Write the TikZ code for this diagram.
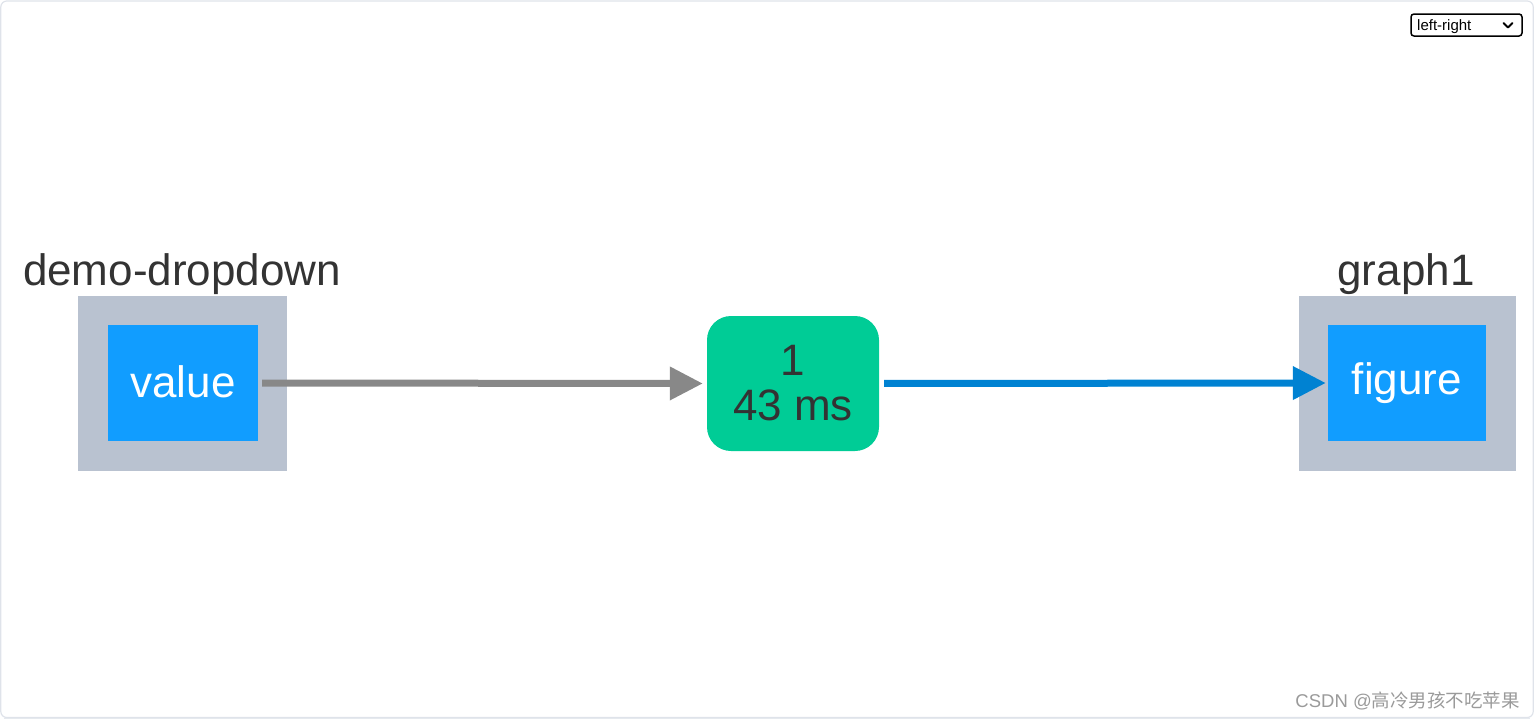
\documentclass[tikz,border=0pt]{standalone}
\usepackage{fontspec}
\setmainfont{Liberation Sans}
\newfontfamily\cjkfont{Noto Sans CJK SC}
\usetikzlibrary{arrows.meta}
\definecolor{parentgray}{HTML}{B9C2D0}
\definecolor{compblue}{HTML}{119DFF}
\definecolor{cbgreen}{HTML}{00CC96}
\definecolor{txtdark}{HTML}{333333}
\definecolor{edgegray}{HTML}{888888}
\definecolor{edgeblue}{HTML}{0082D2}
\definecolor{framegray}{HTML}{DFE3EA}
\definecolor{wmgray}{HTML}{9A9A9A}
\tikzset{
  parentbox/.style={fill=parentgray, draw=none, inner sep=0pt},
  propbox/.style={fill=compblue, draw=none, text=white, inner sep=0pt, font=\fontsize{44}{45}\selectfont},
  cbbox/.style={fill=cbgreen, draw=none, rounded corners=24pt, text=txtdark, inner sep=0pt, align=center, font=\fontsize{44}{45}\selectfont},
  parentlabel/.style={text=txtdark, anchor=base, inner sep=0pt, font=\fontsize{44}{45}\selectfont},
  edgeline/.style={line width=7pt, -{Triangle[length=33pt,width=32pt]}},
}
\begin{document}
\begin{tikzpicture}[x=1pt,y=-1pt]
\useasboundingbox (0,0) rectangle (1534,720);
% frame
\draw[framegray, line width=1.2pt, rounded corners=6pt] (0.8,1) rectangle (1533.2,717.5);
\draw[framegray!80, line width=1.5pt] (4,718.5) -- (1530,718.5);
% left parent
\node[parentbox, minimum width=209pt, minimum height=175pt] (p1) at (182.5,383.5) {};
\node[propbox, minimum width=150pt, minimum height=116pt] (value) at (183,383) {\raisebox{2pt}{value}};
\node[parentlabel] (l1) at (182,285) {demo-dropdown};
% right parent
\node[parentbox, minimum width=217pt, minimum height=175pt] (p2) at (1407,383.5) {};
\node[propbox, minimum width=158pt, minimum height=116pt] (figure) at (1407,383) {figure};
\node[parentlabel] (l2) at (1406,285) {graph1};
% callback
\node[cbbox, minimum width=172pt, minimum height=135pt] (cb) at (793,383.5) {1\\43 ms};
% edges
\draw[edgeline, edgegray, shorten <=4pt, shorten >=4pt] (value.east) -- (cb.west);
\draw[edgeline, edgeblue, shorten <=5pt, shorten >=2pt] (cb.east) -- (figure.west);
% dropdown
\node[draw=black, line width=1.5pt, rounded corners=3pt, minimum width=111pt, minimum height=22pt, inner sep=0pt] (dd) at (1466.5,25) {};
\node[anchor=base west, inner sep=0pt, font=\fontsize{15}{16}\selectfont] (ddtext) at (1417,30.5) {left-right};
\coordinate (chev) at (1508,25);
\draw[line width=2pt, line cap=round, line join=round] ([xshift=-4.5pt,yshift=2pt]chev) -- ([yshift=-2.5pt]chev) -- ([xshift=4.5pt,yshift=2pt]chev);
% watermark
\node[anchor=east, inner sep=0pt, text=wmgray, font=\fontsize{18.5}{19}\selectfont] (wm) at (1520,701) {CSDN @{\cjkfont 高冷男孩不吃苹果}};
\end{tikzpicture}
\end{document}
